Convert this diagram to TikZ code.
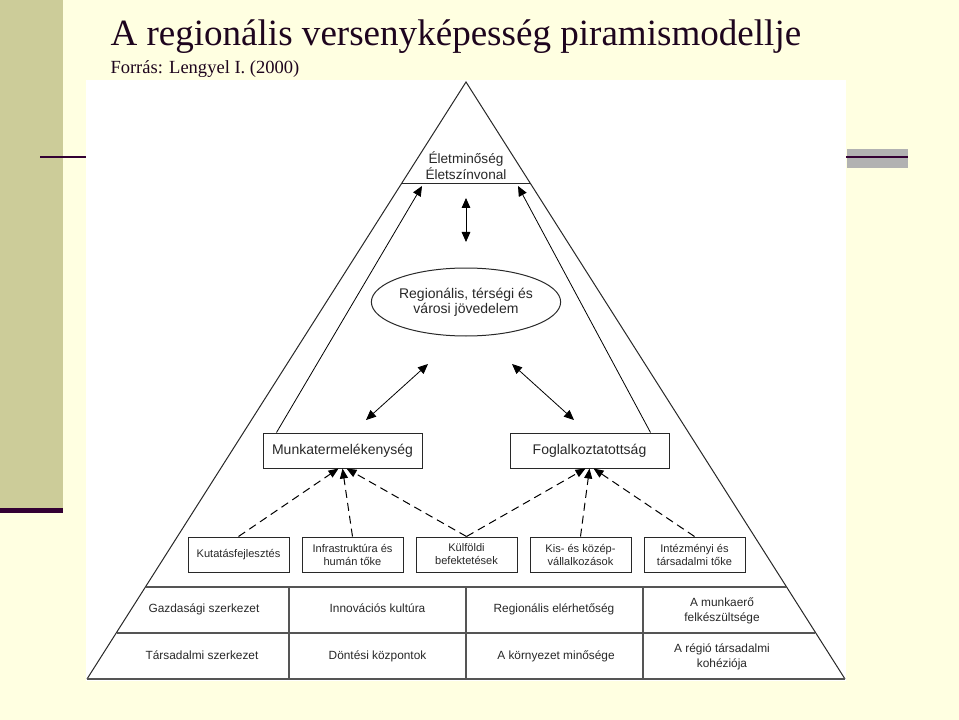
\documentclass[tikz,border=0pt]{standalone}
\usepackage{fontspec}
\setmainfont{Liberation Serif}
\setsansfont{Liberation Sans}
\usetikzlibrary{arrows.meta,shapes.geometric,positioning}

\definecolor{slidebg}{RGB}{255,255,225}
\definecolor{bandolive}{RGB}{204,204,153}
\definecolor{darkplum}{RGB}{51,0,51}
\definecolor{bargray}{RGB}{178,178,178}
\definecolor{inkgray}{RGB}{40,40,40}
\definecolor{tabgray}{RGB}{85,85,85}
\definecolor{titleink}{RGB}{30,5,30}

\tikzset{every picture/.style={line width=0.75pt}}
\tikzset{
  pyr/.style={draw=inkgray, line width=0.75pt},
  tabline/.style={draw=tabgray, line width=1pt},
  labeltext/.style={inner sep=0.75pt, align=center, text=inkgray, font=\sffamily\fontsize{10.2}{10.5}\selectfont},
  bigbox/.style={draw=inkgray, rectangle, minimum width=119.25pt, minimum height=26.25pt, inner sep=0pt, text=inkgray, font=\sffamily\fontsize{10.5}{12}\selectfont},
  smallbox/.style={draw=inkgray, rectangle, minimum width=75.75pt, minimum height=26.25pt, inner sep=0pt, align=center, text=inkgray, font=\sffamily\fontsize{8.3}{9.75}\selectfont},
  cell/.style={inner sep=0.75pt, align=center, text=inkgray, font=\sffamily\fontsize{8.9}{11.25}\selectfont},
  onecell/.style={cell, text height=6.5pt, text depth=1.9pt},
  dbl/.style={{Triangle[length=7.5pt,width=6.5pt]}-{Triangle[length=7.5pt,width=6.5pt]}, black, line width=0.6pt},
  uparrow/.style={-{Triangle[length=7.5pt,width=6.5pt]}, black, line width=0.6pt},
  dasharrow/.style={-{Triangle[length=7.5pt,width=6pt]}, black, line width=0.75pt, dash pattern=on 6pt off 3.75pt},
}

\begin{document}
\begin{tikzpicture}[x=0.75pt,y=0.75pt,yscale=-1,xscale=1]
\useasboundingbox (0,0) rectangle (959,720);

% Slide background
\fill[slidebg] (0,0) rectangle (959,720);
\fill[bandolive] (0,0) rectangle (63,508);
\fill[darkplum] (0,508) rectangle (63,513);
\fill[bargray] (847,149) rectangle (908,168);
\draw[darkplum, line width=1.3pt] (40,157) -- (908,157);
\fill[white] (86,80) rectangle (846,681);

% Text Node
\draw (110,46) node [anchor=base west, inner sep=0pt, text=titleink, font=\fontsize{27.8}{30}\selectfont] (title) {A regionális versenyképesség piramismodellje};
% Text Node
\draw (110,74) node [anchor=base west, inner sep=0pt, text=titleink, font=\fontsize{13.9}{16}\selectfont] (source) {Forrás: Lengyel I. (2000)};

% Pyramid
\coordinate (apex) at (466,82);
\coordinate (baseL) at (87,679);
\coordinate (baseR) at (845,679);
\draw[pyr] (baseL) -- (apex) -- (baseR);
\draw[pyr] (401.4,184) -- (530.6,184);

% Table rows and columns
\draw[tabline] (145.9,587) -- (786.1,587);
\draw[tabline] (116.8,633) -- (815.2,633);
\draw[tabline] (baseL) -- (baseR);
\foreach \x in {289,466,643}
  \draw[tabline] (\x,587) -- (\x,679);

% Text Node
\node[labeltext] (elet) at (466,166) {Életminőség\\Életszínvonal};
% Ellipse
\node[ellipse, draw=inkgray, minimum width=127.5pt, minimum height=51pt, inner sep=0pt, align=center, text=inkgray, font=\sffamily\fontsize{10.5}{11.25}\selectfont] (jov) at (466,302) {Regionális, térségi és\\városi jövedelem};

% Boxes
\node[bigbox] (munka) at (342.5,450.5) {Munkatermelékenység};
\node[bigbox] (fogl) at (589.5,450.5) {Foglalkoztatottság};

\node[smallbox] (kutatas) at (238.5,554.5) {Kutatásfejlesztés};
\node[smallbox] (infra) at (352.5,554.5) {Infrastruktúra és\\humán tőke};
\node[smallbox] (kulfoldi) at (466.5,554.5) {Külföldi\\befektetések};
\node[smallbox] (kkv) at (580.5,554.5) {Kis- és közép-\\vállalkozások};
\node[smallbox] (intezmeny) at (694.5,554.5) {Intézményi és\\társadalmi tőke};

% Table cells
\node[onecell] (gazd) at (204,609) {Gazdasági szerkezet};
\node[onecell] (innov) at (377.5,609) {Innovációs kultúra};
\node[onecell] (elerh) at (554,609) {Regionális elérhetőség};
\node[cell] (munkaero) at (722,611) {A munkaerő\\felkészültsége};
\node[onecell] (tarsszerk) at (202,656) {Társadalmi szerkezet};
\node[onecell] (dontes) at (377.5,656) {Döntési központok};
\node[onecell] (kornyezet) at (556,656) {A környezet minősége};
\node[cell] (kohezio) at (722,657) {A régió társadalmi\\kohéziója};

% Double arrows
\coordinate (topA) at (466,198);
\coordinate (topB) at (466,242);
\draw[dbl] (topA) -- (topB);
\coordinate (leftA) at (428,364);
\coordinate (leftB) at (366,420);
\draw[dbl] (leftA) -- (leftB);
\coordinate (rightA) at (512,364);
\coordinate (rightB) at (574,420);
\draw[dbl] (rightA) -- (rightB);

% Arrows up to the top
\coordinate (eletL) at (422,186);
\coordinate (eletR) at (518,186);
\draw[uparrow] ([xshift=10.5pt]munka.north west) -- (eletL);
\draw[uparrow] ([xshift=-14.25pt]fogl.north east) -- (eletR);

% Dashed arrows
\draw[dasharrow] (kutatas.north) -- ([xshift=-3pt]munka.south);
\draw[dasharrow] (infra.north) -- (munka.south);
\draw[dasharrow] (kulfoldi.north) -- ([xshift=3pt]munka.south);
\draw[dasharrow] (kulfoldi.north) -- ([xshift=-3pt]fogl.south);
\draw[dasharrow] (kkv.north) -- (fogl.south);
\draw[dasharrow] (intezmeny.north) -- ([xshift=3pt]fogl.south);

\end{tikzpicture}
\end{document}
